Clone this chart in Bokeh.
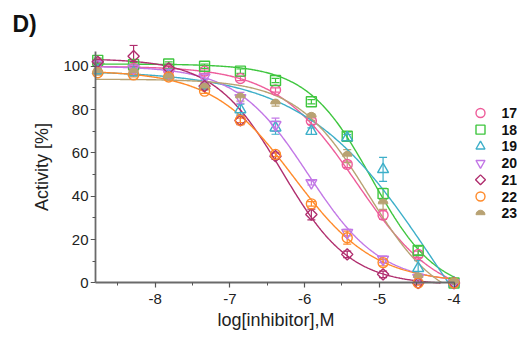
import numpy as np
from bokeh.plotting import figure
from bokeh.models import Range1d, ColumnDataSource, Whisker, TeeHead, FixedTicker, LinearAxis
from bokeh.layouts import row
from bokeh.embed import file_html
from bokeh.resources import INLINE
from bokeh.core.properties import value

# ---------------- data ----------------
log_conc = [-8.77, -8.29, -7.82, -7.34, -6.86, -6.39, -5.91, -5.43, -4.95, -4.48, -4.00]
names = ["17", "18", "19", "20", "21", "22", "23"]

act_17 = [101.5, 99.0, 98.0, 97.7, 94.3, 89.0, 74.7, 54.7, 31.3, 13.2, 0.0]
act_18 = [102.7, 100.8, 101.0, 100.0, 97.7, 93.4, 83.6, 67.7, 41.2, 15.0, 0.0]
act_19 = [98.0, 97.0, 96.0, 91.0, 80.0, 71.6, 70.0, 67.0, 52.4, 6.8, 0.0]
act_20 = [101.0, 99.0, 97.0, 95.0, 85.4, 73.0, 46.2, 23.2, 10.9, 2.5, 0.0]
act_21 = [102.0, 104.6, 99.0, 90.8, 75.0, 58.5, 31.6, 13.2, 4.0, 0.0, 0.0]
act_22 = [97.0, 96.0, 95.0, 88.5, 75.0, 59.3, 36.5, 20.9, 9.4, 0.0, 0.0]
act_23 = [97.0, 97.0, 94.5, 90.0, 85.4, 82.6, 76.5, 58.5, 36.5, 2.5, 0.0]

err_17 = [1, 1, 1, 1, 1, 1, 1.5, 1.5, 2, 1.5, 0.5]
err_18 = [1, 1, 1, 1, 1, 1, 1, 2, 2.5, 2, 0.5]
err_19 = [1, 1.5, 1, 1, 2.5, 3, 1.5, 1.5, 5.5, 3.5, 0.5]
err_20 = [1, 1, 1, 1, 2.5, 3, 1, 1.5, 1.5, 1, 0.5]
err_21 = [1, 5, 2, 1.5, 2, 1.5, 2.5, 1.5, 1.5, 0.5, 0.5]
err_22 = [1, 1, 1, 1, 1, 1, 1, 3, 1.5, 1, 0.5]
err_23 = [1, 1, 1, 1, 1.5, 1, 1.5, 3, 2.5, 1.5, 0.5]

# four-parameter logistic fit parameters
fit_top = [100, 101, 98, 100, 103.5, 98, 94]
fit_bottom = [-8, -5, -80, 0, -1, 0, -12]
fit_logic50 = [-5.3, -5.1, -4.25, -5.95, -6.3, -6.15, -5.15]
fit_hill = [0.8, 1.0, 0.5, 0.9, 0.95, 0.8, 0.9]

x_ticks = [-8, -7, -6, -5, -4]
x_tick_labels = ["-8", "-7", "-6", "-5", "-4"]
x_minor = [-8.5, -7.5, -6.5, -5.5, -4.5]
y_ticks = [0, 20, 40, 60, 80, 100]
y_minor = [10, 30, 50, 70, 90]

colors = ["#EE5C9A", "#3FC63F", "#3DAFC9", "#C277E6", "#B02E6E", "#FF8A2A", "#B8A273"]
markers = ["circle", "square", "triangle", "inverted_triangle", "diamond", "circle", "half"]

acts = [act_17, act_18, act_19, act_20, act_21, act_22, act_23]
errs = [err_17, err_18, err_19, err_20, err_21, err_22, err_23]

FONT = "Liberation Sans"
X_AXIS_START = -8.8
Y_AXIS_END = 107

# ---------------- main figure ----------------
p = figure(width=461, height=340, output_backend="svg", toolbar_location=None,
           x_range=Range1d(-8.867, -3.9), y_range=Range1d(-3, 110),
           min_border_left=90, min_border_right=0, min_border_top=44, min_border_bottom=51)
p.outline_line_color = None
p.xgrid.visible = False
p.ygrid.visible = False
p.background_fill_color = "white"
p.border_fill_color = "white"

# label-only axes at the frame edges
for ax in (p.xaxis[0], p.yaxis[0]):
    ax.axis_line_color = None
    ax.major_tick_line_color = None
    ax.minor_tick_line_color = None
    ax.major_tick_out = 0
    ax.major_tick_in = 0
    ax.minor_tick_out = 0
    ax.minor_tick_in = 0
    ax.major_label_text_font = FONT
    ax.major_label_text_font_size = "15px"
    ax.major_label_text_color = "#222222"
    ax.axis_label_text_font = FONT
    ax.axis_label_text_font_size = "18px"
    ax.axis_label_text_font_style = "normal"
    ax.axis_label_text_color = "#222222"
p.xaxis.ticker = FixedTicker(ticks=x_ticks, minor_ticks=[])
p.xaxis.major_label_overrides = {t: s for t, s in zip(x_ticks, x_tick_labels)}
p.yaxis.ticker = FixedTicker(ticks=y_ticks, minor_ticks=[])
p.xaxis.axis_label = "log[inhibitor],M"
p.yaxis.axis_label = "Activity [%]"
p.xaxis.major_label_standoff = 4
p.yaxis.major_label_standoff = 2
p.xaxis.axis_label_standoff = 3
p.yaxis.axis_label_standoff = 8

# axis lines + ticks crossing at (x start, 0)
def line_axis(**kw):
    return LinearAxis(axis_line_color="#6a6a6a", axis_line_width=1.8,
                      major_tick_line_color="#555555", minor_tick_line_color="#555555",
                      major_tick_line_width=1.2, minor_tick_line_width=1.0,
                      major_tick_out=5, major_tick_in=0, minor_tick_out=3, minor_tick_in=0,
                      major_label_text_font_size="0px", major_label_standoff=0,
                      major_label_text_color=None, axis_label=None, **kw)

xline = line_axis(ticker=FixedTicker(ticks=x_ticks, minor_ticks=x_minor),
                  bounds=(X_AXIS_START, x_ticks[-1]), fixed_location=0)
yline = line_axis(ticker=FixedTicker(ticks=y_ticks, minor_ticks=y_minor),
                  bounds=(0, Y_AXIS_END), fixed_location=X_AXIS_START)
p.add_layout(xline, "below")
p.add_layout(yline, "left")

# fitted curves
xs_curve = np.linspace(X_AXIS_START, x_ticks[-1], 400)
for i in range(len(names)):
    ys = fit_bottom[i] + (fit_top[i] - fit_bottom[i]) / (1 + 10 ** ((xs_curve - fit_logic50[i]) * fit_hill[i]))
    keep = ys >= 0
    p.line(xs_curve[keep], ys[keep], line_color=colors[i], line_width=1.4)

# error bars and points
for i in range(len(names)):
    a = np.array(acts[i], dtype=float)
    e = np.array(errs[i], dtype=float)
    src = ColumnDataSource(dict(x=log_conc, y=a, upper=a + e, lower=a - e))
    w = Whisker(source=src, base="x", upper="upper", lower="lower", dimension="height",
                line_color=colors[i], line_width=1.2,
                upper_head=TeeHead(size=8, line_color=colors[i], line_width=1.2),
                lower_head=TeeHead(size=8, line_color=colors[i], line_width=1.2))
    p.add_layout(w)
    m = markers[i]
    if m == "half":
        p.wedge(x="x", y="y", source=src, radius=4.8, radius_units="screen",
                start_angle=0, end_angle=np.pi, fill_color=colors[i], line_color=colors[i])
    elif m == "diamond":
        p.scatter(x="x", y="y", source=src, marker="square", angle=np.pi / 4, size=8,
                  fill_color=None, line_color=colors[i], line_width=1.4)
    else:
        sz = {"circle": 10, "square": 10, "triangle": 11, "inverted_triangle": 11}[m]
        p.scatter(x="x", y="y", source=src, marker=m, size=sz,
                  fill_color=None, line_color=colors[i], line_width=1.4)

# panel tag
p.title.text = "D)"
p.title.align = "left"
p.title.offset = -78
p.title.text_font = FONT
p.title.text_font_size = "23px"
p.title.text_font_style = "bold"
p.title.text_color = "#111111"
p.title.standoff = 15

# ---------------- legend figure ----------------
leg = figure(width=56, height=340, output_backend="svg", toolbar_location=None,
             x_range=Range1d(0, 56), y_range=Range1d(0, 340),
             min_border=0, min_border_left=0, min_border_right=0,
             min_border_top=0, min_border_bottom=0)
leg.axis.visible = False
leg.xgrid.visible = False
leg.ygrid.visible = False
leg.outline_line_color = None
leg.border_fill_color = "white"

row_top = 95
row_gap = 23.2
for i, nm in enumerate(names):
    yy = 340 - (row_top + i * row_gap)
    m = markers[i]
    if m == "half":
        leg.wedge(x=[19], y=[yy - 2], radius=4.5, radius_units="screen",
                  start_angle=0, end_angle=np.pi, fill_color=colors[i], line_color=colors[i])
    elif m == "diamond":
        leg.scatter(x=[19], y=[yy], marker="square", angle=np.pi / 4, size=7,
                    fill_color=None, line_color=colors[i], line_width=1.4)
    else:
        leg.scatter(x=[19], y=[yy], marker=m, size=9,
                    fill_color=None, line_color=colors[i], line_width=1.4)
    leg.text(x=[40], y=[yy], text=[nm], text_font=value(FONT), text_font_size="14px",
             text_font_style="bold", text_color="#111111", text_baseline="middle",
             text_align="left")

layout = row(p, leg, spacing=0)
open("out.html", "w").write(file_html(layout, INLINE))
